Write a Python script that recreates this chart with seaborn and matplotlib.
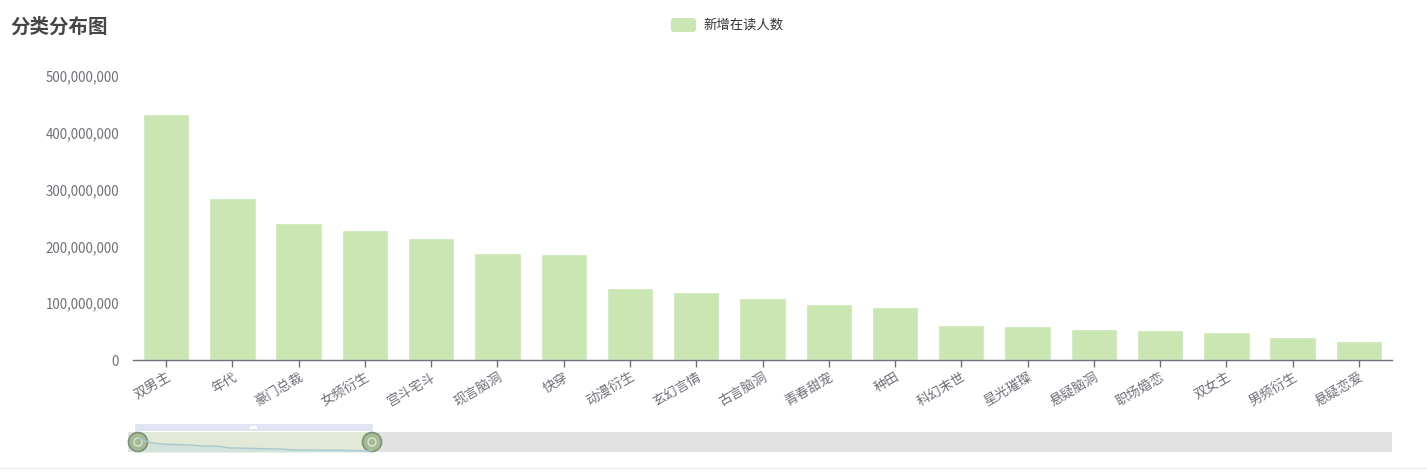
import numpy as np
import pandas as pd
import seaborn as sns
import matplotlib.pyplot as plt
from matplotlib.patches import Rectangle, Circle, FancyBboxPatch
from matplotlib.ticker import FuncFormatter

# 分类分布图 - 新增在读人数
categories = ['双男主', '年代', '豪门总裁', '女频衍生', '宫斗宅斗', '现言脑洞', '快穿',
              '动漫衍生', '玄幻言情', '古言脑洞', '青春甜宠', '种田', '科幻末世', '星光璀璨',
              '悬疑脑洞', '职场婚恋', '双女主', '男频衍生', '悬疑恋爱']
readers = [433000000, 285000000, 241000000, 229000000, 214000000, 188000000, 186000000,
           127000000, 120500000, 109000000, 99000000, 93000000, 61000000, 59000000,
           55000000, 53000000, 50000000, 40500000, 33000000]
yticks = [0, 100000000, 200000000, 300000000, 400000000, 500000000]

df = pd.DataFrame({'分类': categories, '新增在读人数': readers})

sns.set_theme(style='white')
plt.rcParams['font.family'] = ['Noto Sans CJK SC', 'DejaVu Sans']

bar_color = '#c9e6b3'
grey = '#6e7079'

fig = plt.figure(figsize=(14.27, 4.73), dpi=100)
ax = fig.add_axes([133 / 1427, 113 / 473, (1392 - 133) / 1427, 284 / 473])

sns.barplot(data=df, x='分类', y='新增在读人数', color=bar_color, width=0.7,
            saturation=1, ax=ax)

ax.set_ylim(0, 500000000)
ax.set_yticks(yticks)
ax.yaxis.set_major_formatter(FuncFormatter(lambda v, p: f'{int(v):,}'))
ax.set_xlim(-0.5, len(categories) - 0.5)
ax.set_xlabel('')
ax.set_ylabel('')

for s in ['top', 'right', 'left']:
    ax.spines[s].set_visible(False)
ax.spines['bottom'].set_color(grey)
ax.spines['bottom'].set_linewidth(1)

ax.tick_params(axis='y', length=0, labelsize=9.6, labelcolor=grey, pad=10)
ax.tick_params(axis='x', length=5, width=1, color=grey, labelsize=9.6,
               labelcolor=grey, direction='out', pad=2, bottom=True)
plt.setp(ax.get_xticklabels(), rotation=30, ha='right', rotation_mode='anchor')

# 标题与图例
fig.text(10 / 1427, 1 - 27 / 473, '分类分布图', fontsize=14, fontweight='bold',
         color='#464646', va='center', ha='left')

over = fig.add_axes([0, 0, 1, 1])
over.set_xlim(0, 1427)
over.set_ylim(473, 0)
over.axis('off')
over.patch.set_alpha(0)

over.add_patch(FancyBboxPatch((671, 18), 25, 14, boxstyle='round,pad=0,rounding_size=3',
                              facecolor=bar_color, edgecolor='none'))
over.text(703, 25, '新增在读人数', fontsize=9.6, color='#333333', va='center', ha='left')

# 底部缩放条
over.add_patch(Rectangle((128, 432), 1264, 20, facecolor='#e2e2e2', edgecolor='none'))
over.add_patch(Rectangle((137, 432), 236, 20, facecolor='#e2e9d6', edgecolor='none'))
over.add_patch(Rectangle((135, 424), 238, 7, facecolor='#e0e4f3', edgecolor='none'))
over.add_patch(Rectangle((250, 426), 7, 3, facecolor='white', edgecolor='none'))

vals = np.array(readers, dtype=float)
sx = np.linspace(138, 372, len(vals))
sy = 452 - vals / vals.max() * 14
over.fill_between(sx, sy, 452, color='#d3e2da', lw=0)
over.plot(sx, sy, color='#a8c8cf', lw=1)

for hx in [138, 372]:
    over.add_patch(Circle((hx, 442), 9.5, facecolor='#a4bb96', edgecolor='#7f9079', lw=1.2))
    over.add_patch(Circle((hx, 442), 4, facecolor='none', edgecolor='#e8efe0', lw=0.8))

over.plot([0, 1427], [468, 468], color='#ececec', lw=1)

fig.savefig('out.png', dpi=100)
